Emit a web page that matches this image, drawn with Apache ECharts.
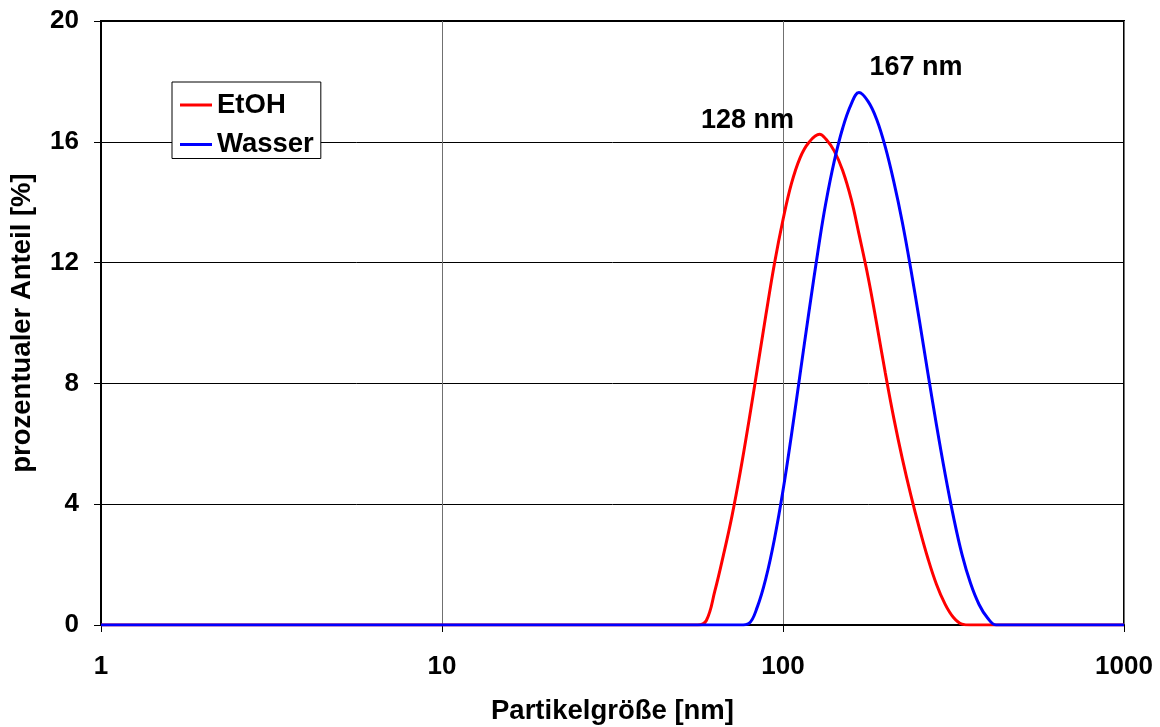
<!DOCTYPE html>
<html>
<head>
<meta charset="utf-8">
<title>Partikelgrößenverteilung</title>
<script src="https://cdn.jsdelivr.net/npm/echarts@6/dist/echarts.min.js"></script>
<style>
  html, body { margin: 0; padding: 0; background: #fff; }
  #chart { width: 1160px; height: 727px; }
</style>
</head>
<body>
<div id="chart"></div>
<script>
// Particle size distribution (DLS) of the same particles in ethanol and water
const seriesNames = ['EtOH', 'Wasser'];
const seriesColors = ['#ff0000', '#0000ff'];

// Size classes [nm], log-spaced
const sizes = [1, 56.2, 59.6, 63.1, 66.8, 70.8, 75.0, 79.4, 84.1, 89.1, 94.4, 100, 105.9, 112.2, 118.9, 128,
  133.4, 141.3, 149.6, 158.5, 167, 177.8, 188.4, 199.5, 211.3, 223.9, 237.1, 251.2, 266.1, 281.8, 298.5,
  316.2, 335.0, 354.8, 375.8, 398.1, 421.7, 446.7, 1000];

// Share per size class [%]
const valuesEtOH = [0, 0, 0.15, 1.12, 2.29, 3.59, 5.09, 6.74, 8.49, 10.27, 11.97, 13.42, 14.62, 15.47, 15.97, 16.25,
  16.1, 15.7, 15.05, 14.1, 12.95, 11.5, 9.95, 8.35, 6.85, 5.5, 4.3, 3.2, 2.2, 1.35, 0.7,
  0.25, 0.03, 0, 0, 0, 0, 0, 0];
const valuesWasser = [0, 0, 0, 0, 0, 0, 0, 0.05, 0.6, 1.55, 2.85, 4.45, 6.3, 8.3, 10.3, 12.73,
  13.95, 15.35, 16.45, 17.25, 17.63, 17.33, 16.73, 15.83, 14.68, 13.33, 11.78, 10.08, 8.33, 6.63, 5.03,
  3.58, 2.33, 1.38, 0.68, 0.23, 0, 0, 0];

// Peak positions quoted in the annotations [nm]
const peakEtOH = 128;
const peakWasser = 167;

const xTicks = [1, 10, 100, 1000];
const yTicks = [0, 4, 8, 12, 16, 20];

const FONT = '"Liberation Sans", Arial, Helvetica, sans-serif';
const FS_TICK = 26;
const FS_TITLE = 27.5;
const FS_NOTE = 27;

function pairs(xs, ys) { return xs.map((x, i) => [x, ys[i]]); }
function valueAt(xs, ys, x) { return ys[xs.indexOf(x)]; }

const chart = echarts.init(document.getElementById('chart'), null, { renderer: 'canvas' });

// invisible anchor at the peak carrying the size annotation
function peakMark(x, y, offset) {
  return {
    silent: true,
    symbol: 'circle',
    symbolSize: 1,
    itemStyle: { color: 'rgba(0,0,0,0)' },
    data: [{
      coord: [x, y],
      label: {
        show: true,
        formatter: x + ' nm',
        position: 'inside',
        offset: offset,
        color: '#000',
        fontFamily: FONT,
        fontWeight: 'bold',
        fontSize: FS_NOTE
      }
    }]
  };
}

chart.setOption({
  animation: false,
  backgroundColor: '#fff',
  grid: {
    left: 101, right: 36, top: 21, bottom: 102,
    outerBoundsMode: 'none',
    containLabel: false,
    show: true, borderColor: '#000', borderWidth: 2, backgroundColor: 'transparent'
  },
  legend: {
    orient: 'vertical',
    left: 172, top: 82,
    padding: [9, 7, 0, 8],
    itemGap: 11.5,
    itemWidth: 32,
    itemHeight: 3,
    icon: 'rect',
    backgroundColor: '#fff',
    borderColor: '#000',
    borderWidth: 1,
    borderRadius: 0,
    data: seriesNames,
    textStyle: { color: '#000', fontFamily: FONT, fontWeight: 'bold', fontSize: FS_TITLE }
  },
  xAxis: {
    type: 'log',
    logBase: 10,
    min: xTicks[0],
    max: xTicks[xTicks.length - 1],
    name: 'Partikelgröße [nm]',
    nameLocation: 'middle',
    nameGap: 72,
    nameTextStyle: { color: '#000', fontFamily: FONT, fontWeight: 'bold', fontSize: FS_TITLE },
    axisLine: { show: true, lineStyle: { color: '#000', width: 2 } },
    axisTick: { show: true, inside: false, length: 7, lineStyle: { color: '#000', width: 1 } },
    minorTick: { show: false },
    axisLabel: {
      margin: 29, color: '#000', fontFamily: FONT, fontWeight: 'bold', fontSize: FS_TICK,
      formatter: v => String(Math.round(v))
    },
    splitLine: { show: true, lineStyle: { color: '#707070', width: 1 } }
  },
  yAxis: {
    type: 'value',
    min: yTicks[0],
    max: yTicks[yTicks.length - 1],
    interval: yTicks[1] - yTicks[0],
    name: 'prozentualer Anteil [%]',
    nameLocation: 'middle',
    nameGap: 65,
    nameTextStyle: { color: '#000', fontFamily: FONT, fontWeight: 'bold', fontSize: FS_TITLE },
    axisLine: { show: true, lineStyle: { color: '#000', width: 2 } },
    axisTick: { show: true, inside: false, length: 7, lineStyle: { color: '#000', width: 1 } },
    axisLabel: { margin: 22, color: '#000', fontFamily: FONT, fontWeight: 'bold', fontSize: FS_TICK },
    splitLine: { show: true, lineStyle: { color: '#000', width: 1 } }
  },
  series: [
    {
      name: seriesNames[0],
      type: 'line',
      data: pairs(sizes, valuesEtOH),
      symbol: 'none',
      smooth: 0.4,
      lineStyle: { color: seriesColors[0], width: 3 },
      itemStyle: { color: seriesColors[0] },
      z: 3,
      markPoint: peakMark(peakEtOH, valueAt(sizes, valuesEtOH, peakEtOH), [-72, -13.5])
    },
    {
      name: seriesNames[1],
      type: 'line',
      data: pairs(sizes, valuesWasser),
      symbol: 'none',
      smooth: 0.4,
      lineStyle: { color: seriesColors[1], width: 3 },
      itemStyle: { color: seriesColors[1] },
      z: 4,
      markPoint: peakMark(peakWasser, valueAt(sizes, valuesWasser, peakWasser), [57, -25.5])
    }
  ]
});
</script>
</body>
</html>
